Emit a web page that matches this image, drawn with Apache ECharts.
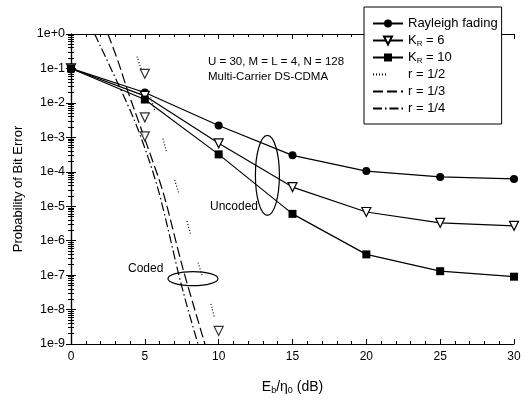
<!DOCTYPE html>
<html>
<head>
<meta charset="utf-8">
<script src="https://cdn.jsdelivr.net/npm/echarts@6/dist/echarts.min.js"></script>
<style>html,body{margin:0;padding:0;background:#fff}#c{width:526px;height:400px}</style>
</head>
<body>
<div id="c"></div>
<script>
// ---- data ----
const snrDb = [0, 5, 10, 15, 20, 25, 30];
const rayleigh = [1e-1, 2.0e-2, 2.2e-3, 3.0e-4, 1.05e-4, 7.1e-5, 6.2e-5];
const kr6 = [1e-1, 1.6e-2, 6.7e-4, 3.6e-5, 6.8e-6, 3.3e-6, 2.7e-6];
const kr10 = [1e-1, 1.25e-2, 3.2e-4, 6.0e-6, 4.0e-7, 1.3e-7, 9.0e-8];
// coded curves (x in dB, y BER)
const codedR12X = [4.47, 5.82, 6.70, 7.72, 8.53, 9.55, 10.1];
const codedR12Y = [0.22, 3.8e-3, 1.66e-4, 6.0e-6, 3.0e-7, 1.1e-8, 1e-9];
const codedR13X = [2.5, 3.2, 3.86, 5.01, 6.23, 7.58, 9.07];
const codedR13Y = [1.0, 0.155, 2.1e-2, 8.7e-4, 2.6e-5, 1.55e-7, 1e-9];
const codedR14X = [1.6, 4.13, 5.15, 5.89, 6.57, 7.24, 7.85, 8.6];
const codedR14Y = [1.0, 4.6e-3, 3.2e-4, 3.2e-5, 2.2e-6, 1.3e-7, 1.3e-8, 1e-9];
// stray K_R = 6 coded markers
const codedMarkX = [5, 5, 5, 10];
const codedMarkY = [0.07, 3.8e-3, 1.07e-3, 2.4e-9];
const yTickLabels = ['1e-9','1e-8','1e-7','1e-6','1e-5','1e-4','1e-3','1e-2','1e-1','1e+0'];
const xTickLabels = ['0','5','10','15','20','25','30'];
const gridRefLevels = [1e-3, 1e-6];
const legendNames = ['Rayleigh fading', 'K_R = 6', 'K_R = 10', 'r = 1/2', 'r = 1/3', 'r = 1/4'];
// annotation anchors in data coords
const uncodedEllipse = [13.3, 7.9e-5];
const codedEllipse = [8.26, 7.9e-8];

const zip = (xs, ys) => xs.map((x, i) => [x, ys[i]]);
const FONT = 'Liberation Sans';
const black = '#000';

const chart = echarts.init(document.getElementById('c'), null, {renderer: 'canvas'});

const dotsPat = [1, 2, 1, 2, 1, 2, 1, 2, 1, 47];

const option = {
  animation: false,
  backgroundColor: '#fff',
  textStyle: {fontFamily: FONT, color: black},
  grid: {left: 71, right: 12, top: 34, bottom: 54},
  legend: {
    orient: 'vertical',
    left: 364, top: 7,
    padding: [9, 4, 8, 8],
    itemWidth: 30, itemHeight: 10, itemGap: 2,
    backgroundColor: '#fff',
    borderColor: black, borderWidth: 1, borderRadius: 0,
    textStyle: {fontFamily: FONT, fontSize: 13, color: black, lineHeight: 15,
      rich: {s: {fontFamily: FONT, fontSize: 8, verticalAlign: 'bottom', padding: [6, 0, 0, 0]}}},
    formatter: n => n.replace('K_R', 'K{s|R}'),
    data: legendNames.map((n, i) => i < 3 ? {name: n} : {name: n, itemStyle: {opacity: 0}}),
    z: 10
  },
  xAxis: [{
    type: 'value', min: 0, max: 30, interval: 5,
    name: 'E{s|b}/η{s|0} (dB)', nameLocation: 'middle', nameGap: 35,
    nameTextStyle: {fontFamily: FONT, fontSize: 14, color: black,
      rich: {s: {fontFamily: FONT, fontSize: 9, verticalAlign: 'bottom', padding: [7, 0, 0, 0]}}},
    axisLine: {lineStyle: {color: black, width: 1.2}},
    axisTick: {inside: true, length: 5, lineStyle: {color: black}},
    minorTick: {show: true, splitNumber: 5, length: 3, lineStyle: {color: black}},
    splitLine: {show: false},
    axisLabel: {fontFamily: FONT, fontSize: 12, color: black, margin: 7,
      formatter: v => xTickLabels[Math.round(v / 5)]}
  }, {
    type: 'value', min: 0, max: 30, interval: 5, position: 'top',
    axisLine: {show: true, lineStyle: {color: black, width: 1.2}},
    axisTick: {inside: true, length: 5, lineStyle: {color: black}},
    minorTick: {show: true, splitNumber: 5, length: 3, lineStyle: {color: black}},
    splitLine: {show: false}, axisLabel: {show: false}
  }],
  yAxis: [{
    type: 'log', logBase: 10, min: 1e-9, max: 1, interval: 1,
    name: 'Probability of Bit Error', nameLocation: 'middle', nameGap: 46, nameRotate: 90,
    nameTextStyle: {fontFamily: FONT, fontSize: 13, color: black},
    axisLine: {show: true, lineStyle: {color: black, width: 1.2}},
    axisTick: {inside: true, length: 5, lineStyle: {color: black}},
    minorTick: {show: true, splitNumber: 9, length: 3, lineStyle: {color: black}},
    splitLine: {show: false},
    axisLabel: {fontFamily: FONT, fontSize: 12.5, color: black, margin: 6,
      formatter: v => yTickLabels[Math.round(Math.log10(v)) + 9]}
  }, {
    type: 'log', logBase: 10, min: 1e-9, max: 1, interval: 1, position: 'right',
    axisLine: {show: true, lineStyle: {color: black, width: 1.2}},
    axisTick: {inside: true, length: 5, lineStyle: {color: black}},
    minorTick: {show: true, splitNumber: 9, length: 3, lineStyle: {color: black}},
    splitLine: {show: false}, axisLabel: {show: false}
  }],
  series: [
    {
      name: legendNames[0], type: 'line', data: zip(snrDb, rayleigh),
      symbol: 'circle', symbolSize: 8,
      itemStyle: {color: black}, lineStyle: {color: black, width: 1.2},
      z: 5,
      markLine: {
        silent: true, symbol: ['none', 'none'], label: {show: false},
        data: [
          {yAxis: gridRefLevels[0], lineStyle: {color: '#333', width: 1, type: dotsPat, dashOffset: 0}},
          {yAxis: gridRefLevels[1], lineStyle: {color: '#333', width: 1, type: dotsPat, dashOffset: 48}}
        ]
      }
    },
    {
      name: legendNames[1], type: 'line', data: zip(snrDb, kr6),
      symbol: 'triangle', symbolRotate: 180, symbolSize: 9,
      itemStyle: {color: '#fff', borderColor: black, borderWidth: 1.2},
      lineStyle: {color: black, width: 1.2}, z: 5
    },
    {
      name: legendNames[2], type: 'line', data: zip(snrDb, kr10),
      symbol: 'rect', symbolSize: 8,
      itemStyle: {color: black}, lineStyle: {color: black, width: 1.2}, z: 5
    },
    {
      name: legendNames[3], type: 'line', data: zip(codedR12X, codedR12Y),
      symbol: 'none', smooth: 0.3, itemStyle: {color: black},
      lineStyle: {color: black, width: 1.2, type: [1, 2, 1, 2, 1, 2, 1, 2, 1, 30]}
    },
    {
      name: legendNames[4], type: 'line', data: zip(codedR13X, codedR13Y),
      symbol: 'none', smooth: 0.3, itemStyle: {color: black},
      lineStyle: {color: black, width: 1.2, type: [10, 4]}
    },
    {
      name: legendNames[5], type: 'line', data: zip(codedR14X, codedR14Y),
      symbol: 'none', smooth: 0.3, itemStyle: {color: black},
      lineStyle: {color: black, width: 1.2, type: [9, 3, 1.5, 3]}
    },
    {
      name: 'coded markers', type: 'scatter', data: zip(codedMarkX, codedMarkY),
      symbol: 'triangle', symbolRotate: 180, symbolSize: 9,
      itemStyle: {color: '#fff', borderColor: black, borderWidth: 1.2}, z: 6
    }
  ]
};
chart.setOption(option);

const pU = chart.convertToPixel({gridIndex: 0}, uncodedEllipse);
const pC = chart.convertToPixel({gridIndex: 0}, codedEllipse);
chart.setOption({
  graphic: [
    {type: 'text', left: 208, top: 56, style: {text: 'U = 30, M = L = 4, N = 128', font: '11.5px "Liberation Sans"', fill: black}},
    {type: 'text', left: 208, top: 71, style: {text: 'Multi-Carrier DS-CDMA', font: '11.5px "Liberation Sans"', fill: black}},
    {type: 'text', left: 210, top: 201, style: {text: 'Uncoded', font: '12px "Liberation Sans"', fill: black}},
    {type: 'text', left: 128, top: 263, style: {text: 'Coded', font: '12px "Liberation Sans"', fill: black}},
    {type: 'ellipse', shape: {cx: pU[0], cy: pU[1], rx: 12, ry: 40}, style: {fill: 'none', stroke: black, lineWidth: 1.2}, z: 3},
    {type: 'ellipse', shape: {cx: pC[0], cy: pC[1], rx: 25, ry: 7}, style: {fill: 'none', stroke: black, lineWidth: 1.2}, z: 3}
  ]
});
</script>
</body>
</html>
